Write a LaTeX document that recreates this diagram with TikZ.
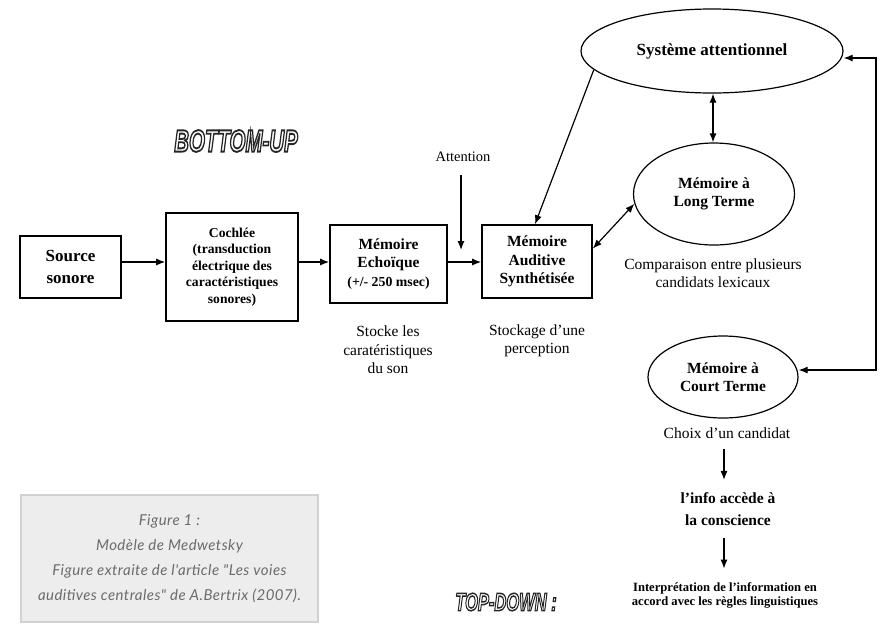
\documentclass[tikz,border=0pt]{standalone}
\usepackage{fontspec}
\setmainfont{Liberation Serif}
\newfontfamily\capfont{Lato}[LetterSpace=3]
\font\bannerbig="Liberation Sans/BI:embolden=6" at 31pt
\font\bannersmall="Liberation Sans/BI:embolden=6" at 25pt
\usetikzlibrary{shapes.geometric,arrows.meta,calc}

\newcommand{\outlined}[1]{{\color{white}\special{pdf:literal direct 0.15 0.15 0.15 RG}#1}}

\tikzset{
    box/.style={draw, line width=1.6pt, align=center, inner sep=0pt,
        font=\fontsize{15.5}{18.5}\selectfont\bfseries},
    oval/.style={draw, ellipse, line width=1.2pt, align=center, inner sep=0pt,
        font=\fontsize{15.5}{18.5}\selectfont\bfseries},
    note/.style={align=center, font=\fontsize{15.5}{18.5}\selectfont},
    arr/.style={line width=1.2pt, -{Latex[length=9pt,width=7pt]}},
    darr/.style={line width=1.2pt, {Latex[length=9pt,width=7pt]}-{Latex[length=9pt,width=7pt]}}
}

\begin{document}
\begin{tikzpicture}[x=1pt, y=-1pt]
    \useasboundingbox (0,0) rectangle (880,630);

    % chaine bottom-up
    \node[box, minimum width=101, minimum height=62, font=\fontsize{17}{22}\selectfont\bfseries]
        (src) at (70.5,267) {Source\\sonore};
    \node[box, minimum width=132, minimum height=108, font=\fontsize{13.6}{16.5}\selectfont\bfseries]
        (coch) at (232,267) {Cochlée\\(transduction\\électrique des\\caractéristiques\\sonores)};
    \node[box, minimum width=117, minimum height=78] (echo) at (388.5,264)
        {Mémoire\\Echoïque\\{\fontsize{13.8}{18.5}\selectfont(+/- 250 msec)}};
    \node[box, minimum width=110, minimum height=73] (aud) at (537,261.5)
        {Mémoire\\Auditive\\Synthétisée};

    \node[oval, minimum width=262, minimum height=84, font=\fontsize{17}{20}\selectfont\bfseries]
        (sys) at (712,51) {Système attentionnel};
    \node[oval, minimum width=161, minimum height=102] (lt) at (714,194)
        {Mémoire à\\Long Terme};
    \node[oval, minimum width=150, minimum height=82] (ct) at (723,377)
        {Mémoire à\\Court Terme};

    \node[note, font=\fontsize{14.5}{18}\selectfont] (attn) at (463,157) {Attention};
    \node[note] (stocke) at (388,350) {Stocke les\\caratéristiques\\du son};
    \node[note] (stockage) at (537,341) {Stockage d'une\\perception};
    \node[note] (comp) at (713,273) {Comparaison entre plusieurs\\candidats lexicaux};
    \node[note] (choix) at (727,433) {Choix d'un candidat};
    \node[note, font=\fontsize{15.5}{22}\selectfont\bfseries] (info) at (728,509)
        {l'info accède à\\la conscience};
    \node[note, font=\fontsize{12.6}{14}\selectfont\bfseries] (interp) at (725,595)
        {Interprétation de l'information en\\accord avec les règles linguistiques};

    \node (bu) at (236,141) {\scalebox{0.66}[1]{\bannerbig\outlined{BOTTOM-UP}}};
    \node (td) at (506,602) {\scalebox{0.66}[1]{\bannersmall\outlined{TOP-DOWN :}}};

    \node[draw=black!18, fill=black!7, line width=2.5pt, minimum width=297, minimum height=127,
        align=center, text=black!58, font=\capfont\itshape\fontsize{15}{25}\selectfont] (cap) at (169.5,558.5)
        {Figure 1 :\\Modèle de Medwetsky\\Figure extraite de l'article "Les voies\\auditives centrales" de A.Bertrix (2007).};

    % connecteurs
    \coordinate (flow) at (0,262);
    \foreach \a/\b in {src/coch, coch/echo, echo/aud} {
        \draw[arr] (\a.east |- flow) -- (\b.west |- flow);
    }

    \coordinate (attin) at (461,250);
    \draw[arr, shorten <=10pt] (attn.south -| attin) -- (attin);

    \draw[arr] (sys.189) -- ([xshift=-2pt]aud.north);
    \draw[darr] (aud.13) -- (lt.187);
    \draw[darr] (sys.south -| 713,0) -- (lt.north -| 713,0);

    \coordinate (fbtop) at (876,58);
    \coordinate (fbbot) at (876,370);
    \draw[darr] (sys.east |- fbtop) -- (fbtop) -- (fbbot) -- (ct.east |- fbbot);

    \draw[arr, shorten <=7pt, shorten >=9pt] (choix.south -| 724,0) -- (info.north -| 724,0);
    \draw[arr, shorten <=9pt, shorten >=10pt] (info.south -| 724,0) -- (interp.north -| 724,0);

\end{tikzpicture}
\end{document}
